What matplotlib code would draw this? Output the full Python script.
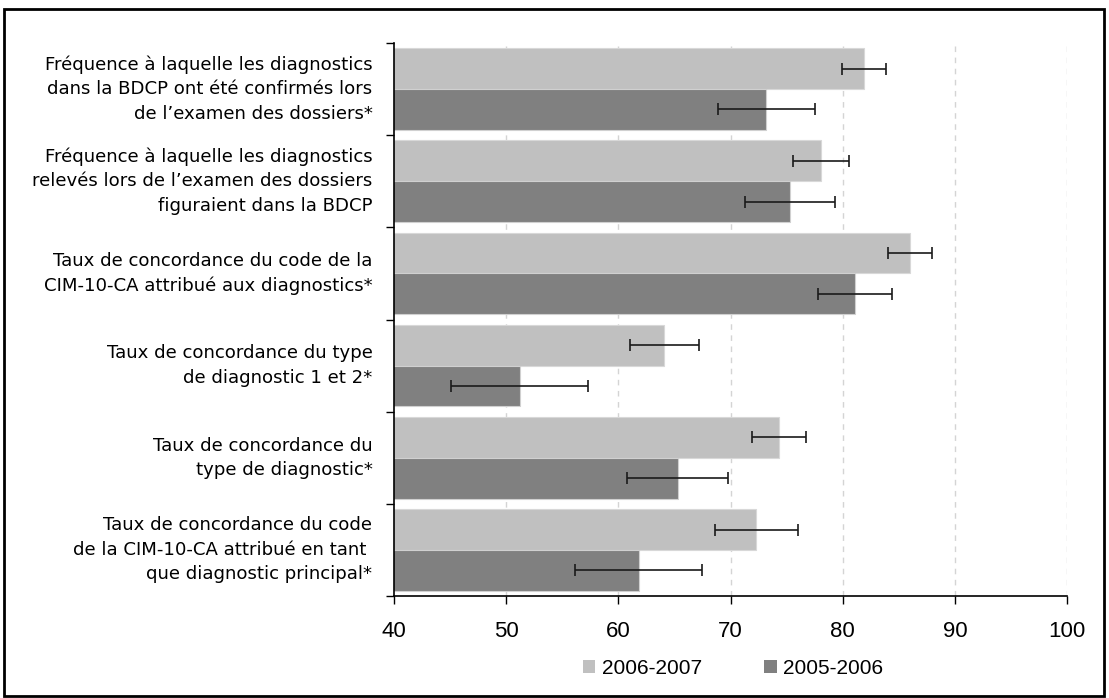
import matplotlib
matplotlib.use("Agg")
import matplotlib.pyplot as plt
from matplotlib.patches import Rectangle, Patch
import numpy as np

plt.rcParams['font.family'] = ['Liberation Sans', 'DejaVu Sans']

categories = [
    "Fréquence à laquelle les diagnostics\ndans la BDCP ont été confirmés lors\nde l’examen des dossiers*",
    "Fréquence à laquelle les diagnostics\nrelevés lors de l’examen des dossiers\nfiguraient dans la BDCP",
    "Taux de concordance du code de la\nCIM-10-CA attribué aux diagnostics*",
    "Taux de concordance du type\nde diagnostic 1 et 2*",
    "Taux de concordance du\ntype de diagnostic*",
    "Taux de concordance du code\nde la CIM-10-CA attribué en tant \nque diagnostic principal*",
]
series_labels = ["2006-2007", "2005-2006"]
values_2006_2007 = [81.9, 78.1, 86.0, 64.1, 74.3, 72.3]
errors_2006_2007 = [2.0, 2.5, 2.0, 3.1, 2.4, 3.7]
values_2005_2006 = [73.2, 75.3, 81.1, 51.2, 65.3, 61.8]
errors_2005_2006 = [4.3, 4.0, 3.3, 6.1, 4.5, 5.7]
x_ticks = [40, 50, 60, 70, 80, 90, 100]

colors = ["#c0c0c0", "#808080"]

fig = plt.figure(figsize=(11.09, 6.98), dpi=100)
ax = fig.add_axes([394 / 1109, 1 - 596 / 698, (1067 - 394) / 1109, (596 - 43) / 698])

# outer frame around the whole chart
fig.patches.append(Rectangle((4 / 1109, 1 - 696 / 698), 1100 / 1109, 687 / 698,
                             transform=fig.transFigure, fill=False,
                             edgecolor="black", linewidth=2.0, zorder=10))

y = np.arange(len(categories))
h = 0.443
ax.barh(y - h / 2, values_2006_2007, height=h, left=0, color=colors[0],
        edgecolor="#d8d8d8", linewidth=0.8, zorder=2, label=series_labels[0])
ax.barh(y + h / 2, values_2005_2006, height=h, left=0, color=colors[1],
        edgecolor="#d0d0d0", linewidth=0.8, zorder=2, label=series_labels[1])

err_kw = dict(fmt="none", ecolor="#1a1a1a", elinewidth=1.2, capsize=4,
              capthick=1.2, zorder=3)
ax.errorbar(values_2006_2007, y - h / 2, xerr=errors_2006_2007, **err_kw)
ax.errorbar(values_2005_2006, y + h / 2, xerr=errors_2005_2006, **err_kw)

ax.set_xlim(40, 100)
ax.set_ylim(len(categories) - 0.5, -0.5)

ax.set_xticks(x_ticks)
ax.set_xticklabels([str(t) for t in x_ticks], fontsize=16, family=["Liberation Sans"])
ax.tick_params(axis="x", direction="out", length=6, width=1, pad=12)

ax.set_yticks(y)
ax.set_yticklabels(categories, fontsize=13.1, linespacing=1.46, ha="right", va="center",
                   family=["DejaVu Sans"])
ax.tick_params(axis="y", which="major", length=0, pad=15.5)
ax.set_yticks(np.arange(len(categories) + 1) - 0.5, minor=True)
ax.tick_params(axis="y", which="minor", direction="out", length=6, width=1)

for t in x_ticks[1:]:
    ax.axvline(t, color="#d4d4d4", linestyle=(0, (4, 4)), linewidth=1, zorder=1)

for side in ["top", "right"]:
    ax.spines[side].set_visible(False)
for side in ["left", "bottom"]:
    ax.spines[side].set_linewidth(1.2)

handles = [Patch(facecolor=colors[0]), Patch(facecolor=colors[1])]
fig.legend(handles, series_labels, loc="center", bbox_to_anchor=(733 / 1109, 1 - 668 / 698),
           ncol=2, frameon=False, handlelength=0.6, handleheight=0.6,
           handletextpad=0.3, columnspacing=3.0,
           prop={"family": ["Liberation Sans"], "size": 15})

fig.savefig("out.png", dpi=100)
